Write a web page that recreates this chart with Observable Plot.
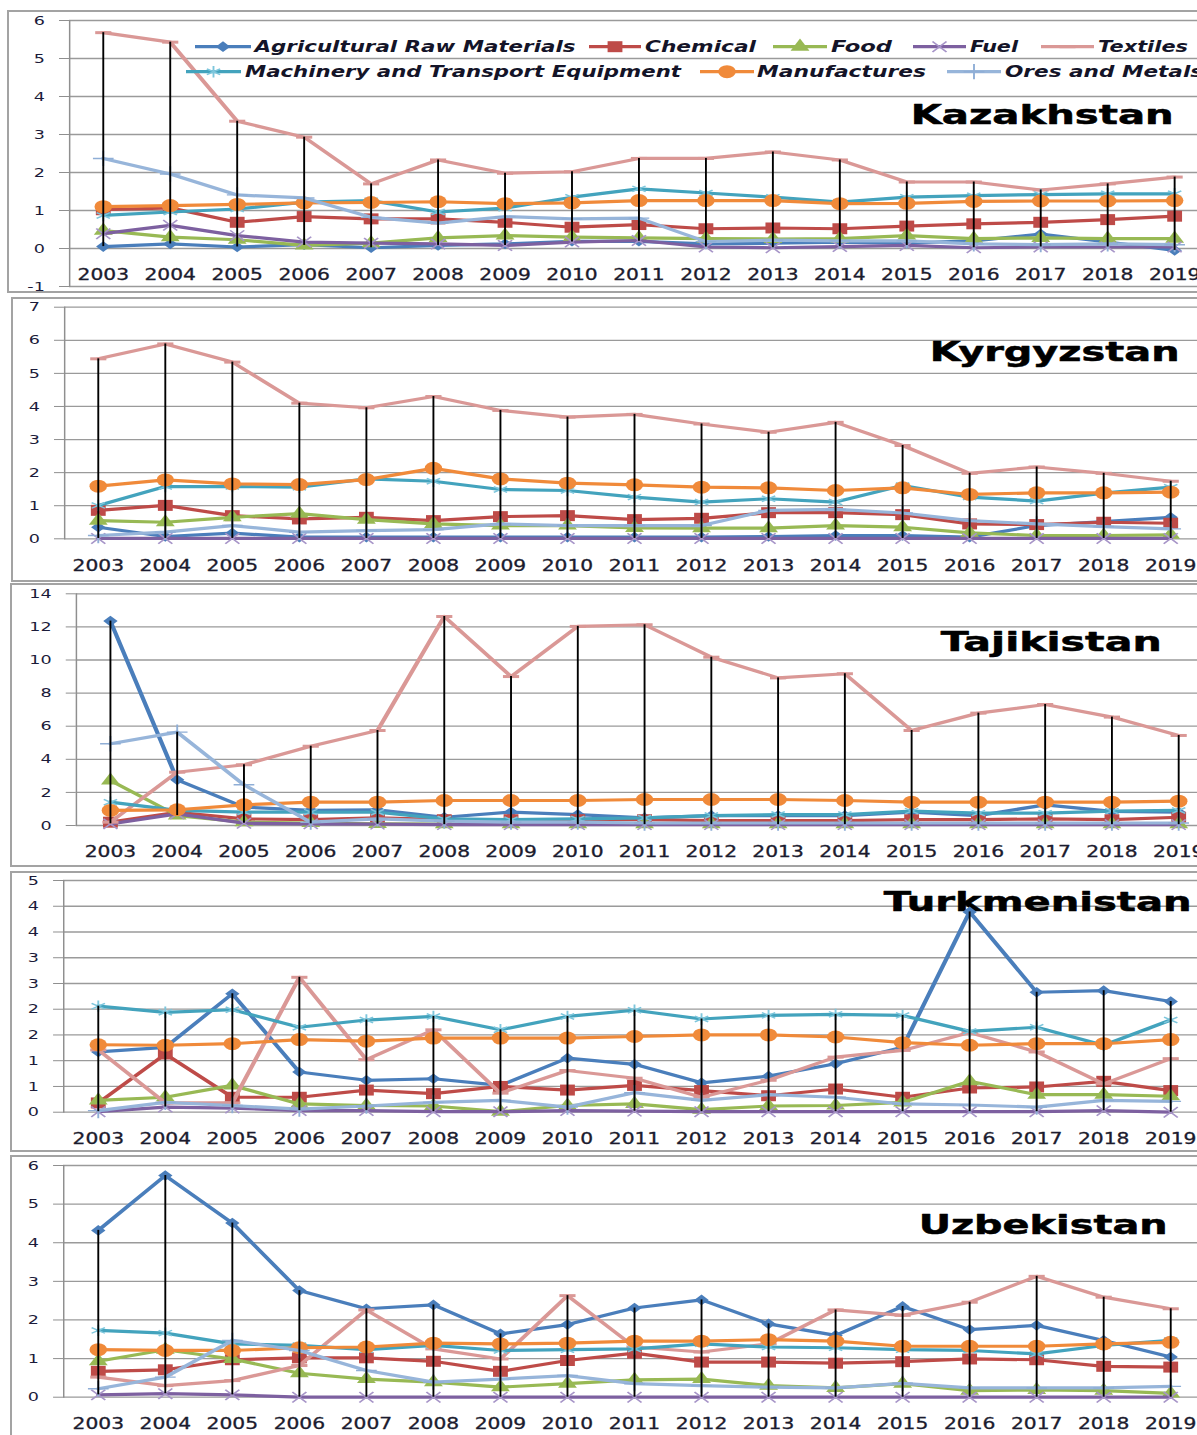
<!DOCTYPE html>
<html><head><meta charset="utf-8">
<script src="https://cdn.jsdelivr.net/npm/d3@7"></script>
<script src="https://cdn.jsdelivr.net/npm/@observablehq/plot@0.6"></script>
<style>
html,body{margin:0;padding:0;background:#fff;}
#page{position:relative;width:1197px;height:1435px;overflow:hidden;background:#fff;}
.box{position:absolute;border:2px solid #a3a3a3;box-sizing:border-box;width:1400px;}
.panel{position:absolute;left:0;}
</style></head><body><div id="page"></div>
<script>
// ---------- DATA ----------
const years = ["2003","2004","2005","2006","2007","2008","2009","2010","2011","2012","2013","2014","2015","2016","2017","2018","2019"];
const seriesNames = ["Agricultural Raw Materials","Chemical","Food","Fuel","Textiles","Machinery and Transport Equipment","Manufactures","Ores and Metals"];
const countries = ["Kazakhstan","Kyrgyzstan","Tajikistan","Turkmenistan","Uzbekistan"];

// each country: one row per series, in the order of seriesNames
const kazakhstan = [
  [0.05,0.12,0.04,0.10,0.02,0.08,0.12,0.19,0.19,0.12,0.14,0.17,0.14,0.20,0.38,0.17,-0.05],
  [1.02,1.07,0.69,0.84,0.78,0.78,0.69,0.56,0.63,0.52,0.54,0.52,0.59,0.65,0.69,0.76,0.85],
  [0.47,0.30,0.23,0.08,0.14,0.28,0.34,0.30,0.28,0.26,0.25,0.26,0.34,0.26,0.28,0.26,0.26],
  [0.39,0.61,0.34,0.17,0.14,0.12,0.08,0.17,0.21,0.04,0.02,0.05,0.08,0.02,0.04,0.04,0.04],
  [5.68,5.43,3.35,2.93,1.70,2.33,1.98,2.02,2.37,2.37,2.54,2.33,1.75,1.75,1.54,1.70,1.88],
  [0.87,0.96,1.04,1.22,1.26,0.96,1.06,1.35,1.57,1.46,1.35,1.22,1.35,1.39,1.42,1.44,1.44],
  [1.10,1.13,1.16,1.20,1.21,1.23,1.18,1.20,1.26,1.26,1.26,1.18,1.19,1.24,1.25,1.25,1.26],
  [2.37,1.96,1.41,1.33,0.82,0.67,0.84,0.78,0.80,0.18,0.22,0.20,0.20,0.12,0.10,0.12,0.10]
];
const kyrgyzstan = [
  [0.35,0.07,0.17,0.05,0.05,0.05,0.05,0.05,0.05,0.05,0.07,0.10,0.10,0.05,0.40,0.52,0.65],
  [0.86,1.01,0.70,0.60,0.65,0.55,0.67,0.70,0.58,0.62,0.79,0.79,0.73,0.45,0.43,0.50,0.47],
  [0.55,0.50,0.65,0.76,0.58,0.45,0.40,0.40,0.33,0.32,0.32,0.40,0.35,0.18,0.10,0.10,0.12],
  [0.01,0.01,0.01,0.01,0.01,0.01,0.01,0.01,0.01,0.01,0.01,0.01,0.01,0.01,0.01,0.01,0.01],
  [5.44,5.89,5.34,4.10,3.96,4.30,3.88,3.68,3.76,3.47,3.22,3.52,2.82,1.98,2.17,1.98,1.74],
  [1.01,1.58,1.58,1.56,1.81,1.74,1.49,1.46,1.26,1.11,1.21,1.11,1.61,1.26,1.14,1.38,1.56],
  [1.59,1.78,1.66,1.64,1.79,2.13,1.81,1.68,1.63,1.56,1.54,1.46,1.54,1.34,1.39,1.39,1.41],
  [0.10,0.20,0.40,0.20,0.25,0.28,0.45,0.40,0.40,0.40,0.86,0.89,0.78,0.55,0.45,0.37,0.30]
];
const tajikistan = [
  [12.35,2.76,1.11,0.91,0.95,0.50,0.81,0.66,0.46,0.60,0.60,0.60,0.81,0.60,1.25,0.85,0.80],
  [0.20,0.80,0.40,0.35,0.46,0.35,0.35,0.35,0.35,0.30,0.30,0.30,0.35,0.35,0.40,0.35,0.50],
  [2.72,0.60,0.20,0.15,0.10,0.08,0.08,0.08,0.08,0.08,0.08,0.08,0.08,0.08,0.08,0.08,0.08],
  [0.10,0.70,0.14,0.10,0.08,0.05,0.05,0.05,0.05,0.05,0.05,0.05,0.05,0.05,0.05,0.05,0.05],
  [0.20,3.22,3.67,4.79,5.74,12.63,9.00,12.03,12.13,10.17,8.92,9.17,5.74,6.79,7.31,6.55,5.44],
  [1.41,0.91,0.81,0.81,0.80,0.40,0.35,0.40,0.46,0.60,0.66,0.66,0.87,0.75,0.75,0.87,0.91],
  [0.91,0.95,1.25,1.41,1.41,1.51,1.51,1.51,1.57,1.57,1.57,1.51,1.41,1.41,1.41,1.41,1.47],
  [4.94,5.64,2.46,0.20,0.40,0.26,0.20,0.20,0.15,0.15,0.15,0.15,0.15,0.15,0.15,0.15,0.15]
];
const turkmenistan = [
  [1.17,1.26,2.30,0.78,0.62,0.65,0.52,1.05,0.93,0.57,0.70,0.94,1.26,3.89,2.33,2.36,2.15],
  [0.18,1.13,0.29,0.29,0.43,0.36,0.50,0.43,0.52,0.42,0.32,0.45,0.29,0.47,0.49,0.60,0.42],
  [0.23,0.29,0.52,0.16,0.13,0.12,0.01,0.13,0.16,0.05,0.12,0.13,0.19,0.60,0.34,0.34,0.31],
  [0.01,0.10,0.08,0.03,0.03,0.01,0.01,0.03,0.02,0.01,0.01,0.01,0.01,0.01,0.01,0.03,0.00],
  [1.21,0.18,0.18,2.62,1.02,1.60,0.37,0.81,0.66,0.29,0.62,1.07,1.20,1.55,1.17,0.55,1.04],
  [2.06,1.94,1.99,1.65,1.79,1.86,1.60,1.86,1.98,1.81,1.88,1.90,1.88,1.57,1.65,1.30,1.79],
  [1.31,1.30,1.33,1.41,1.38,1.44,1.44,1.44,1.47,1.50,1.50,1.46,1.35,1.30,1.33,1.33,1.41],
  [0.03,0.19,0.13,0.06,0.12,0.19,0.23,0.10,0.38,0.23,0.34,0.29,0.16,0.14,0.10,0.23,0.21]
];
const uzbekistan = [
  [4.32,5.74,4.51,2.76,2.29,2.39,1.64,1.88,2.31,2.52,1.90,1.60,2.35,1.75,1.86,1.47,1.04],
  [0.67,0.71,0.97,1.02,1.02,0.93,0.67,0.95,1.14,0.91,0.91,0.88,0.92,0.99,0.97,0.80,0.78],
  [0.93,1.23,0.99,0.62,0.47,0.39,0.26,0.35,0.45,0.47,0.30,0.24,0.35,0.17,0.19,0.17,0.10],
  [0.06,0.09,0.06,0.00,0.00,0.00,0.00,0.00,0.00,0.00,0.00,0.00,0.00,0.00,0.00,0.00,0.00],
  [0.52,0.30,0.43,0.82,2.26,1.25,0.99,2.63,1.30,1.17,1.38,2.26,2.12,2.46,3.13,2.59,2.29],
  [1.73,1.66,1.38,1.34,1.23,1.34,1.21,1.23,1.25,1.38,1.30,1.28,1.23,1.21,1.12,1.34,1.47],
  [1.23,1.21,1.21,1.28,1.30,1.40,1.38,1.40,1.45,1.45,1.49,1.45,1.32,1.32,1.32,1.38,1.42],
  [0.22,0.52,1.47,1.21,0.69,0.39,0.47,0.56,0.35,0.30,0.26,0.24,0.36,0.24,0.24,0.24,0.28]
];
const countryData = [kazakhstan, kyrgyzstan, tajikistan, turkmenistan, uzbekistan];

const yTicksKaz = [-1,0,1,2,3,4,5,6];
const yTicksKyr = [0,1,2,3,4,5,6,7];
const yTicksTaj = [0,2,4,6,8,10,12,14];
const yTicksTurk = [0,0.5,1,1.5,2,2.5,3,3.5,4,4.5];
const yTicksUzb = [0,1,2,3,4,5,6];
const yTicks = [yTicksKaz, yTicksKyr, yTicksTaj, yTicksTurk, yTicksUzb];

// ---------- STYLE / LAYOUT ----------
const S = 1.35;            // horizontal stretch of the original picture
const W = 1197;
const PW = W / S;
const FONT = "DejaVu Sans";
const dash = {draw(ctx, size) { const w = Math.sqrt(size) * 0.75; ctx.moveTo(-w, 0); ctx.lineTo(w, 0); }};
const styles = [
  {color: "#4A7EBB", symbol: d3.symbolDiamond2, fill: true, r: 4.8},
  {color: "#BE4B48", symbol: d3.symbolSquare, fill: true, r: 6.2},
  {color: "#98B954", symbol: d3.symbolTriangle, fill: true, r: 5.2},
  {color: "#7D60A0", symbol: d3.symbolTimes, fill: false, r: 4.8, mark: "#A795C8"},
  {color: "#DA9896", symbol: dash, fill: false, r: 4.5, sw: 3},
  {color: "#43A3BD", symbol: d3.symbolAsterisk, fill: false, r: 5.4, mark: "#7DC6DC"},
  {color: "#F08A3A", symbol: d3.symbolCircle, fill: true, r: 6.5},
  {color: "#97B5DA", symbol: d3.symbolPlus, fill: false, r: 5, mark: "#8FAED6"}
];
const layout = [
  {left: 7,  top: 10,   height: 283, mt: 10,   mb: 7,    ax: 51.1, x0: 76.0, x1: 869.6, ldy: -11,  tdx: -17.8, tdy: 95,   tlen: 194.8},
  {left: 11, top: 297,  height: 285, mt: 9.7,  mb: 43.7, ax: 47.4, x0: 72.3, x1: 866.7, ldy: 27.7, tdx: -13.4, tdy: 45.3, tlen: 185},
  {left: 10, top: 583,  height: 284, mt: 10.3, mb: 42,   ax: 56.1, x0: 81.3, x1: 872.6, ldy: 26.7, tdx: -26.7, tdy: 48.7, tlen: 163.7},
  {left: 10, top: 871,  height: 281, mt: 9,    mb: 40.3, ax: 46.7, x0: 72.3, x1: 866.7, ldy: 27.3, tdx: -4.5,  tdy: 22,   tlen: 228},
  {left: 10, top: 1155, height: 285, mt: 10,   mb: 43.3, ax: 46.7, x0: 72.3, x1: 866.7, ldy: 27.3, tdx: -22.3, tdy: 60,   tlen: 184.4}
];
const legendLayout = [
  {row: 0, lx: [195, 251], tx: 254.5, tl: 321},
  {row: 0, lx: [589, 641], tx: 645, tl: 111},
  {row: 0, lx: [773, 827], tx: 831, tl: 61},
  {row: 0, lx: [913, 966], tx: 970, tl: 48},
  {row: 0, lx: [1041, 1094], tx: 1098, tl: 90},
  {row: 1, lx: [186, 241], tx: 245, tl: 436},
  {row: 1, lx: [700, 754], tx: 757, tl: 169},
  {row: 1, lx: [947, 1001], tx: 1005, tl: null}
];
const legendRowY = [36.7, 61.7];

const page = document.getElementById("page");

function stretch(svg, h) {
  svg.setAttribute("viewBox", `0 0 ${PW} ${h}`);
  svg.setAttribute("preserveAspectRatio", "none");
  svg.setAttribute("width", W);
  svg.setAttribute("height", h);
  svg.style.width = W + "px";
  svg.style.height = h + "px";
  svg.style.maxWidth = "none";
  svg.style.background = "transparent";
  svg.style.overflow = "hidden";
}

countries.forEach((name, ci) => {
  const L = layout[ci];
  const vals = countryData[ci];
  const ticks = yTicks[ci];
  const box = document.createElement("div");
  box.className = "box";
  box.style.left = L.left + "px";
  box.style.top = L.top + "px";
  box.style.height = L.height + "px";
  page.appendChild(box);

  const rows = [];
  vals.forEach((arr, si) => arr.forEach((v, yi) => rows.push({series: si, year: years[yi], value: v})));
  const hl = years.map((yr, yi) => ({year: yr, lo: d3.min(vals, a => a[yi]), hi: d3.max(vals, a => a[yi])}));

  const marks = [
    Plot.gridY({ticks, stroke: "#9a9a9a", strokeOpacity: 1, strokeWidth: 1.3}),
    Plot.frame({anchor: "left", stroke: "#8f8f8f", strokeWidth: 1.1}),
    Plot.axisY({ticks, tickSize: 7.4, tickPadding: 11, stroke: "#8f8f8f", fill: "#1b1b3a",
      fontSize: 13, fontFamily: FONT,
      tickFormat: ci === 3 ? (d => String(Math.round(d))) : (d => String(d))}),
    Plot.text(years, {x: d => d, frameAnchor: "bottom", lineAnchor: "middle", dy: L.ldy, fontSize: 15, fontFamily: FONT,
      fill: "#1b1b2e", stroke: "#1b1b2e", strokeWidth: 0.3}),
    Plot.text([name], {frameAnchor: "top-right", textAnchor: "end", lineAnchor: "middle", dx: L.tdx, dy: L.tdy,
      fontSize: 26, fontWeight: "bold", fontFamily: FONT, fill: "#000", stroke: "#000", strokeWidth: 0.5})
  ];
  styles.forEach((st, si) => {
    const d = rows.filter(r => r.series === si);
    marks.push(Plot.line(d, {x: "year", y: "value", stroke: st.color, strokeWidth: 3.2, strokeLinejoin: "round"}));
    marks.push(Plot.dot(d, {x: "year", y: "value", symbol: () => st.symbol, r: st.r,
      fill: st.fill ? st.color : "none",
      stroke: st.fill ? "none" : (st.mark || st.color),
      strokeWidth: st.sw || 1.4}));
  });
  marks.push(Plot.ruleX(hl, {x: "year", y1: "lo", y2: "hi", stroke: "#000", strokeWidth: 1.4}));

  const svg = Plot.plot({
    width: PW, height: L.height,
    marginLeft: L.ax, marginRight: 0, marginTop: L.mt, marginBottom: L.mb,
    x: {type: "point", domain: years, range: [L.x0, L.x1], padding: 0, round: false, axis: null},
    y: {domain: [ticks[0], ticks[ticks.length - 1]]},
    symbol: {type: "identity"},
    style: {fontFamily: FONT, background: "transparent"},
    marks
  });
  stretch(svg, L.height);
  d3.select(svg).selectAll("text").filter(function() { return this.textContent === name; })
    .attr("textLength", L.tlen).attr("lengthAdjust", "spacingAndGlyphs");

  if (ci === 0) {
    const g = d3.select(svg).append("g").attr("aria-label", "legend").attr("text-anchor", "start");
    legendLayout.forEach((it, si) => {
      const st = styles[si];
      const y = legendRowY[it.row];
      const xa = it.lx[0] / S, xb = it.lx[1] / S;
      g.append("line").attr("x1", xa).attr("x2", xb).attr("y1", y).attr("y2", y)
        .attr("stroke", st.color).attr("stroke-width", 3.2);
      g.append("path").attr("transform", `translate(${(xa + xb) / 2},${y})`)
        .attr("d", d3.symbol(st.symbol, Math.PI * st.r * st.r)())
        .attr("fill", st.fill ? st.color : "none")
        .attr("stroke", st.fill ? "none" : (st.mark || st.color))
        .attr("stroke-width", st.sw || 1.4);
      const t = g.append("text").attr("x", it.tx / S).attr("y", y).attr("dy", "0.36em")
        .attr("text-anchor", "start")
        .attr("font-family", FONT).attr("font-size", 16).attr("font-weight", "bold")
        .attr("font-style", "italic").attr("fill", "#141428").text(seriesNames[si]);
      if (it.tl) t.attr("textLength", it.tl / S).attr("lengthAdjust", "spacingAndGlyphs");
    });
  }

  svg.classList.add("panel");
  svg.style.position = "absolute";
  svg.style.left = "0px";
  svg.style.top = L.top + "px";
  page.appendChild(svg);
});
</script>
</body></html>
